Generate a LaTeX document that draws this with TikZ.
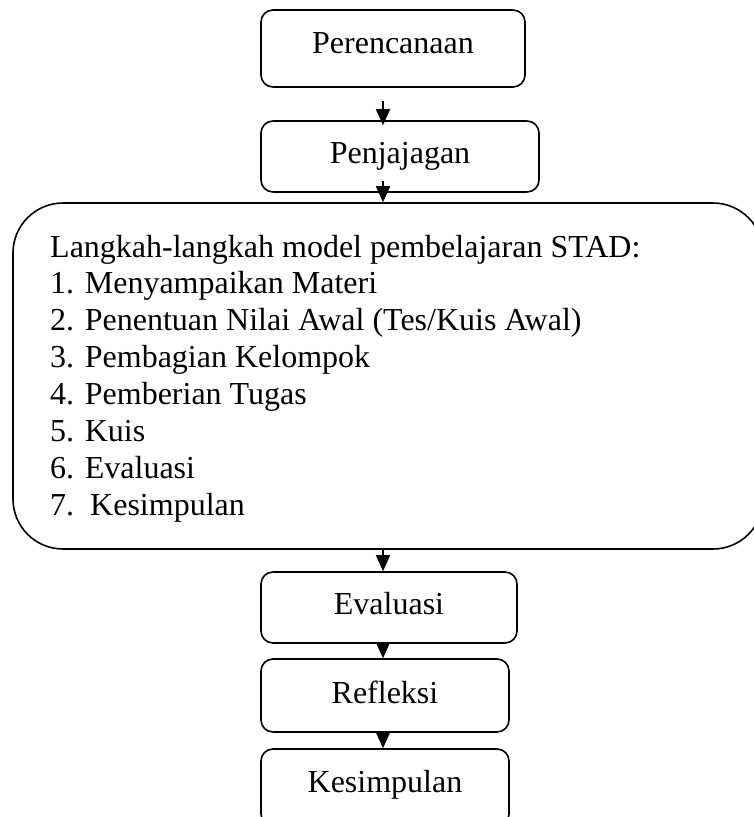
\documentclass[tikz,border=0pt]{standalone}
\usepackage{fontspec}
\setmainfont{Liberation Serif}
\usetikzlibrary{arrows.meta,calc}
\begin{document}
\begin{tikzpicture}[x=1pt,y=-1pt,
  box/.style={draw, line width=1.6pt, rounded corners=12pt, inner sep=0pt},
  lbl/.style={font=\fontsize{32}{36.9}\selectfont, inner sep=0pt, anchor=base},
  lst/.style={font=\fontsize{32}{36.9}\selectfont, inner sep=0pt, anchor=base west},
  arr/.style={-{Triangle[width=14pt,length=16pt]}, line width=1.6pt}]
\useasboundingbox (0,0) rectangle (754,817);
\clip (0,0) rectangle (754,817);
\coordinate (ax) at (383,0);
% boxes
\node[box, minimum width=264pt, minimum height=77pt] (per) at (393,48.5) {};
\node[box, minimum width=278pt, minimum height=71pt] (pen) at (400,156.5) {};
\node[box, rounded corners=50pt, minimum width=750pt, minimum height=346pt] (big) at (388,376) {};
\node[box, minimum width=256pt, minimum height=71pt] (eva) at (389,607.5) {};
\node[box, minimum width=248pt, minimum height=73pt] (ref) at (385,695.5) {};
\node[box, minimum width=248pt, minimum height=77pt] (kes) at (385,787.5) {};
% labels
\node[lbl] (tper) at (393,53) {Perencanaan};
\node[lbl] (tpen) at (400,163) {Penjajagan};
\node[lbl] (teva) at (389,614) {Evaluasi};
\node[lbl] (tref) at (385,703) {Refleksi};
\node[lbl] (tkes) at (385,792) {Kesimpulan};
% list in big box
\node[lst] (l0) at (50,257.0) {Langkah-langkah model pembelajaran STAD:};
\node[lst] (l1) at (50,293.9) {1. Menyampaikan Materi};
\node[lst] (l2) at (50,330.7) {2. Penentuan Nilai Awal (Tes/Kuis Awal)};
\node[lst] (l3) at (50,367.6) {3. Pembagian Kelompok};
\node[lst] (l4) at (50,404.4) {4. Pemberian Tugas};
\node[lst] (l5) at (50,441.3) {5. Kuis};
\node[lst] (l6) at (50,478.1) {6. Evaluasi};
\node[lst] (l7) at (50,515.0) {7.\ \ Kesimpulan};
% arrows
\draw[arr] ($(per.south -| ax)+(0,13)$) -- ($(pen.north -| ax)+(0,5)$);
\draw[arr] ($(pen.south -| ax)+(0,-12)$) -- (big.north -| ax);
\draw[arr] (big.south -| ax) -- (eva.north -| ax);
\draw[arr] (eva.south -| ax) -- (ref.north -| ax);
\draw[arr] (ref.south -| ax) -- (kes.north -| ax);
\end{tikzpicture}
\end{document}
